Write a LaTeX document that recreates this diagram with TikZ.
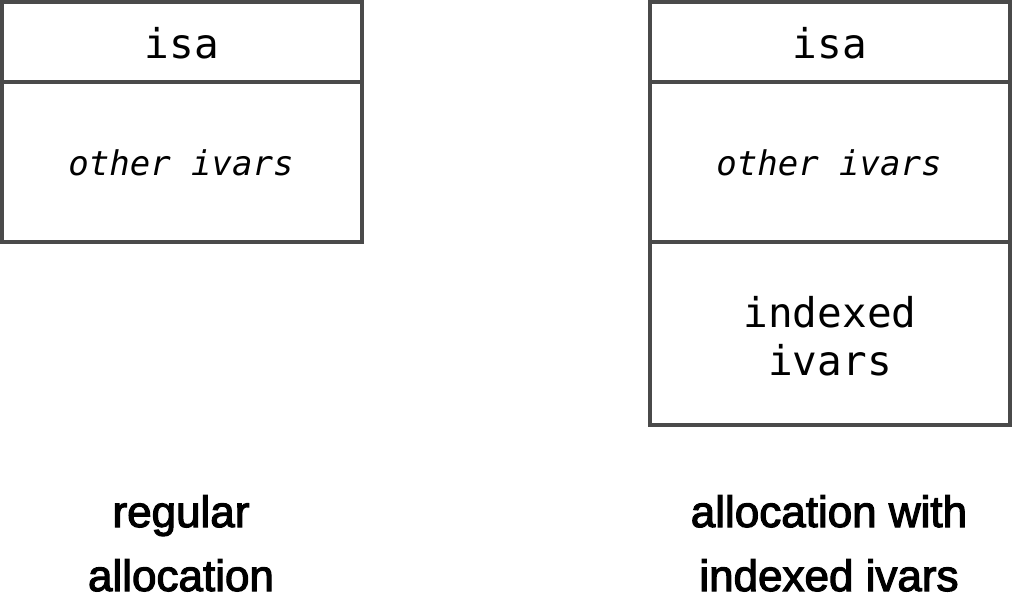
\documentclass[tikz,border=0pt]{standalone}
\usepackage{fontspec}
\setmainfont{Liberation Sans}
\setmonofont{DejaVu Sans Mono}
\begin{document}
\begin{tikzpicture}[x=1pt,y=-1pt,
  cell/.style={draw=linegray,line width=4pt,fill=white},
  monotext/.style={anchor=base,inner sep=0pt,font=\fontsize{41}{48}\selectfont\ttfamily},
  ivartext/.style={anchor=base,inner sep=0pt,font=\fontsize{34}{40}\selectfont\ttfamily\itshape},
  labeltext/.style={anchor=base,inner sep=0pt,font=\fontsize{44}{50}\selectfont\addfontfeatures{FakeBold=2.6}}]
\definecolor{linegray}{HTML}{4A4A4A}
\useasboundingbox (0,0) rectangle (1012,598);
% left box
\draw[cell] (2,2) rectangle (362,242);
\draw[draw=linegray,line width=4pt] (2,82) -- (362,82);
\node[monotext] (lisa) at (182,58) {isa};
\node[ivartext] (lother) at (181,175) {other ivars};
% right box
\draw[cell] (650,2) rectangle (1010,425);
\draw[draw=linegray,line width=4pt] (650,82) -- (1010,82);
\draw[draw=linegray,line width=4pt] (650,242) -- (1010,242);
\node[monotext] (risa) at (830,58) {isa};
\node[ivartext] (rother) at (829,175) {other ivars};
\node[monotext] (rind1) at (830,327) {indexed};
\node[monotext] (rind2) at (830,375) {ivars};
% labels
\node[labeltext] (l1) at (181,527) {regular};
\node[labeltext] (l2) at (181,591) {allocation};
\node[labeltext] (r1) at (829,527) {allocation with};
\node[labeltext] (r2) at (829,591) {indexed ivars};
\end{tikzpicture}
\end{document}
